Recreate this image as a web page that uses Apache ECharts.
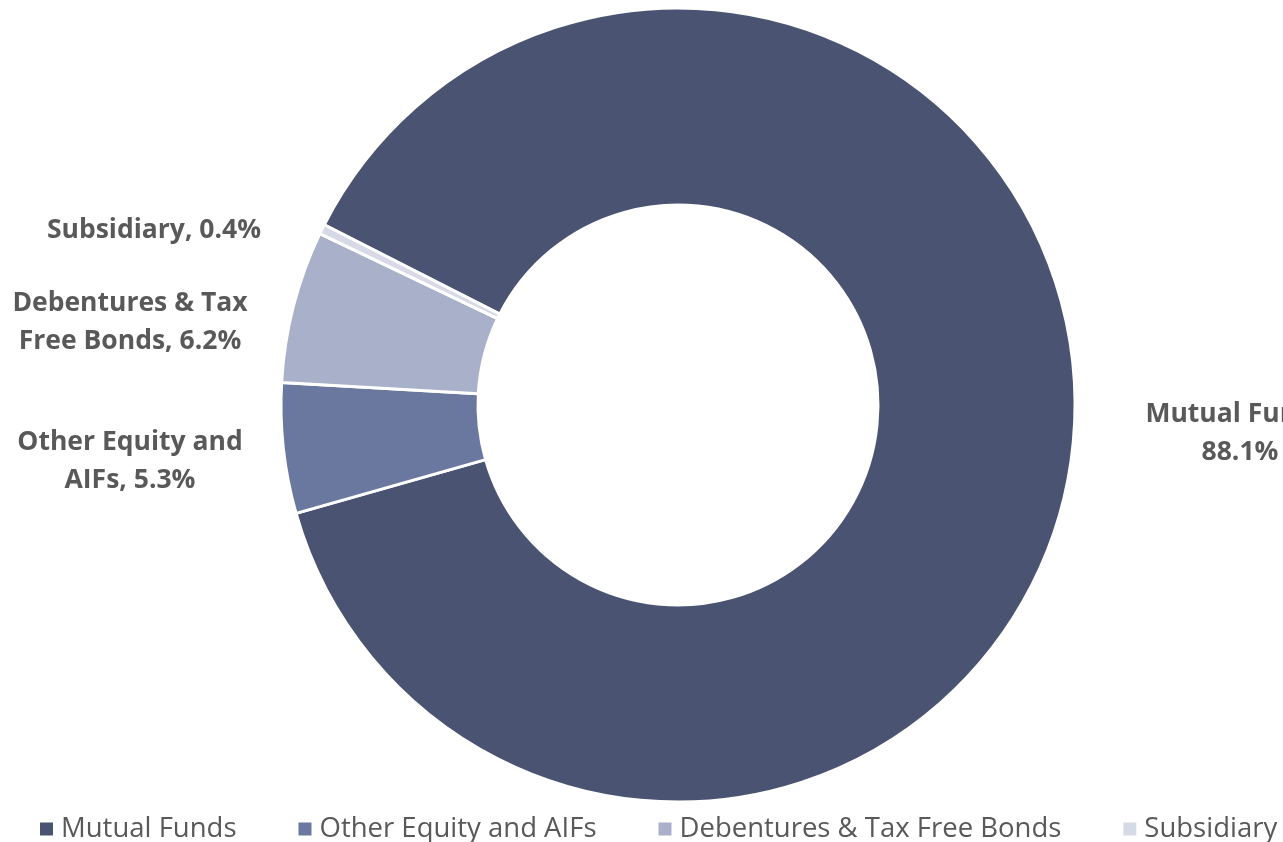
<!DOCTYPE html>
<html>
<head>
<meta charset="utf-8">
<script src="https://cdn.jsdelivr.net/npm/echarts@6/dist/echarts.min.js"></script>
<style>
  html, body { margin: 0; padding: 0; background: #fff; overflow: hidden; }
  #main { width: 1283px; height: 842px; }
</style>
</head>
<body>
<div id="main"></div>
<script>
// holdings split, in percent
const categories = ['Mutual Funds', 'Other Equity and AIFs', 'Debentures & Tax Free Bonds', 'Subsidiary']
const shares = [88.1, 5.3, 6.2, 0.4]
// label text as shown on the chart (wrapped lines)
const labelTexts = ['Mutual Funds,\n88.1%', 'Other Equity and\nAIFs, 5.3%', 'Debentures & Tax\nFree Bonds, 6.2%', 'Subsidiary, 0.4%']

const colors = ['#4A5472', '#6A789F', '#A9B0C9', '#D6DAE6']
// where the data labels sit (label centre, px)
const labelAnchors = [[1240, 433], [130, 461], [130, 322], [154, 230]]

const chartDom = document.getElementById('main')
const myChart = echarts.init(chartDom)

const option = {
  animation: false,
  color: colors,
  legend: {
    top: 810,
    left: 33,
    width: 1800,
    itemWidth: 15,
    itemHeight: 15,
    itemGap: 60,
    icon: 'rect',
    textStyle: {
      color: '#595959',
      fontSize: 27.5,
      fontFamily: 'Open Sans',
      padding: [0, 0, 0, 2]
    },
    data: categories
  },
  series: [
    {
      type: 'pie',
      center: [678, 405],
      radius: [200, 397],
      startAngle: 153,
      clockwise: true,
      avoidLabelOverlap: false,
      itemStyle: {
        borderColor: '#fff',
        borderWidth: 3
      },
      label: {
        show: true,
        position: 'outside',
        color: '#595959',
        fontSize: 26.5,
        fontWeight: 'bold',
        fontFamily: 'Open Sans',
        lineHeight: 38,
        align: 'center',
        formatter: (p) => labelTexts[p.dataIndex]
      },
      labelLine: { show: false },
      labelLayout: (params) => ({
        x: labelAnchors[params.dataIndex][0],
        y: labelAnchors[params.dataIndex][1],
        align: 'center',
        verticalAlign: 'middle'
      }),
      emphasis: { disabled: true },
      data: categories.map((name, i) => ({ name: name, value: shares[i] }))
    }
  ]
}
option && myChart.setOption(option)
</script>
</body>
</html>
